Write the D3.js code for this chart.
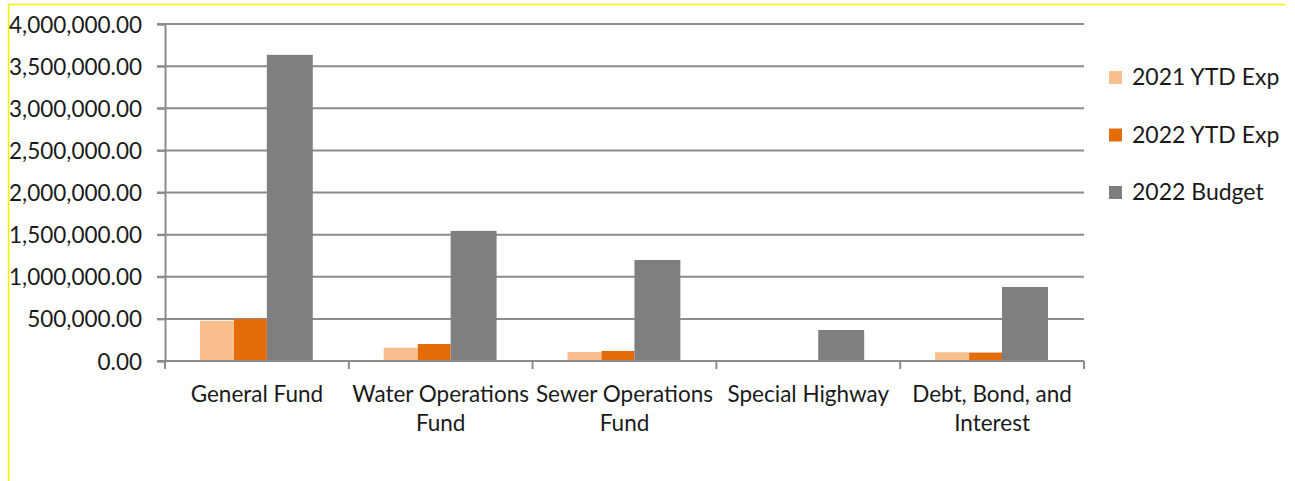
<!DOCTYPE html>
<html><head><meta charset="utf-8">
<script src="https://cdn.jsdelivr.net/npm/d3@7"></script>
<style>body{margin:0;background:#fff;} text{font-family:Lato,"Open Sans",sans-serif;fill:#1a1a1a;}</style>
</head><body>
<svg id="c" width="1295" height="481"></svg>
<script>
const categories = [["General Fund"],["Water Operations","Fund"],["Sewer Operations","Fund"],["Special Highway"],["Debt, Bond, and","Interest"]];
const seriesNames = ["2021 YTD Exp","2022 YTD Exp","2022 Budget"];
const exp2021 = [478000,158000,107000,0,104000];
const exp2022 = [498000,202000,119000,0,100000];
const budget2022 = [3634000,1544000,1199000,368000,879000];
const yTicks = [0,500000,1000000,1500000,2000000,2500000,3000000,3500000,4000000];
const colors = ["#F9BF8F","#E46C0A","#7F7F7F"];
const series = [exp2021,exp2022,budget2022];

(function(){
const svg = d3.select("#c");
svg.append("line").attr("x1",8).attr("x2",1285).attr("y1",4.5).attr("y2",4.5).attr("stroke","#f2f200").attr("stroke-width",1.5);
svg.append("line").attr("x1",8.5).attr("x2",8.5).attr("y1",4).attr("y2",481).attr("stroke","#f2f200").attr("stroke-width",1.5);

const pLeft=165,pRight=1084,pTop=24,pBottom=361;
const x = d3.scaleBand().domain(d3.range(categories.length)).range([pLeft,pRight]).padding(0);
const y = d3.scaleLinear().domain([0,4000000]).range([pBottom,pTop]);
const grid="#8c8c8c";
svg.append("g").selectAll("line").data(yTicks.slice(1)).join("line")
  .attr("x1",pLeft-8).attr("x2",pRight).attr("y1",d=>y(d)).attr("y2",d=>y(d))
  .attr("stroke",grid).attr("stroke-width",2);
const subStart=[0.190,0.375,0.554], subEnd=[0.375,0.554,0.804];
const bw=x.bandwidth();
series.forEach((vals,si)=>{
  svg.append("g").selectAll("rect").data(vals).join("rect")
   .attr("x",(d,i)=>x(i)+subStart[si]*bw).attr("width",(subEnd[si]-subStart[si])*bw)
   .attr("y",d=>y(d)).attr("height",d=>pBottom-y(d)).attr("fill",colors[si]);
});
const yAxis = d3.axisLeft(y).tickValues(yTicks).tickSize(8).tickPadding(15)
  .tickFormat(d=>d3.format(",.2f")(d));
const yg=svg.append("g").attr("transform",`translate(${pLeft},0)`).call(yAxis);
yg.select(".domain").attr("stroke",grid).attr("stroke-width",2);
yg.selectAll(".tick line").attr("stroke",grid).attr("stroke-width",2);
yg.selectAll(".tick text").style("font-size","22.5px").attr("fill","#1a1a1a").attr("font-family",null).attr("dy","0.36em");
svg.append("line").attr("x1",pLeft-8).attr("x2",pRight).attr("y1",pBottom).attr("y2",pBottom).attr("stroke",grid).attr("stroke-width",2);
svg.append("g").selectAll("line").data(d3.range(categories.length+1)).join("line")
  .attr("x1",i=>pLeft+i*bw).attr("x2",i=>pLeft+i*bw).attr("y1",pBottom).attr("y2",pBottom+8)
  .attr("stroke",grid).attr("stroke-width",2);
categories.forEach((lines,i)=>{
  const t=svg.append("text").attr("text-anchor","middle").style("font-size","22.5px")
    .attr("x",x(i)+bw/2).attr("y",401.5);
  lines.forEach((l,j)=>t.append("tspan").attr("x",x(i)+bw/2).attr("dy",j?29.5:0).text(l));
});
seriesNames.forEach((n,i)=>{
  const ly=85+i*57.5;
  svg.append("rect").attr("x",1109).attr("y",ly-14).attr("width",13).attr("height",13).attr("fill",colors[i]);
  svg.append("text").attr("x",1132).attr("y",ly).style("font-size","23px").text(n);
});
})();
</script>
</body></html>
